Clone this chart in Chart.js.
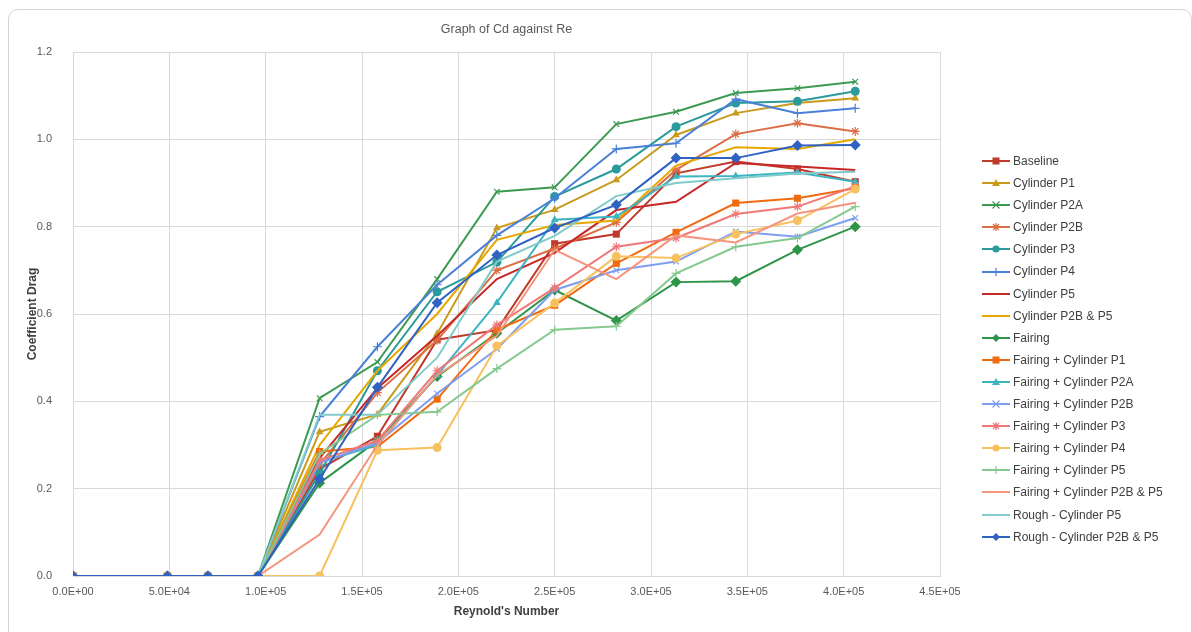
<!DOCTYPE html>
<html>
<head>
<meta charset="utf-8">
<script src="https://cdn.jsdelivr.net/npm/chart.js@4/dist/chart.umd.min.js"></script>
<style>
  html, body { margin: 0; padding: 0; background: #fff; overflow: hidden; }
  #wrap { position: relative; width: 1192px; height: 632px; font-family: "Liberation Sans", Arial, sans-serif; }
  #frame { position: absolute; left: 8px; top: 9px; width: 1182px; height: 640px; border: 1px solid #d4d4d4; border-radius: 10px; }
  #title { position: absolute; left: 73px; width: 867px; top: 22px; text-align: center; font-size: 12.5px; color: #595959; }
  #legend { position: absolute; left: 982px; top: 150px; font-size: 12px; color: #404040; }
  #legend .item { height: 22.1px; line-height: 22.1px; white-space: nowrap; display: flex; align-items: center; }
  #legend svg { margin-right: 3px; flex: none; }
  canvas { position: absolute; left: 0; top: 0; }
</style>
</head>
<body>
<div id="wrap">
  <div id="frame"></div>
  <canvas id="chart" width="1192" height="632"></canvas>
  <div id="title">Graph of Cd against Re</div>
  <div id="legend"></div>
</div>
<script>
// ─── Data ─────────────────────────────────────────────────────────────────────
const reynolds = [0, 49000, 70000, 96000, 128000, 158000, 189000, 220000, 250000, 282000, 313000, 344000, 376000, 406000];

const seriesNames = [
  'Baseline', 'Cylinder P1', 'Cylinder P2A', 'Cylinder P2B', 'Cylinder P3', 'Cylinder P4',
  'Cylinder P5', 'Cylinder P2B & P5', 'Fairing', 'Fairing + Cylinder P1', 'Fairing + Cylinder P2A',
  'Fairing + Cylinder P2B', 'Fairing + Cylinder P3', 'Fairing + Cylinder P4', 'Fairing + Cylinder P5',
  'Fairing + Cylinder P2B & P5', 'Rough - Cylinder P5', 'Rough - Cylinder P2B & P5'
];

const baseline   = [0, 0, 0, 0, 0.245, 0.320, 0.541, 0.563, 0.761, 0.783, 0.922, 0.949, 0.932, 0.903];
const cylP1      = [0, 0, 0, 0, 0.330, 0.370, 0.555, 0.797, 0.839, 0.907, 1.010, 1.060, 1.083, 1.094];
const cylP2A     = [0, 0, 0, 0, 0.407, 0.490, 0.680, 0.880, 0.890, 1.035, 1.063, 1.106, 1.117, 1.132];
const cylP2B     = [0, 0, 0, 0, 0.255, 0.420, 0.540, 0.700, 0.750, 0.810, 0.930, 1.012, 1.037, 1.018];
const cylP3      = [0, 0, 0, 0, 0.235, 0.470, 0.651, 0.719, 0.869, 0.932, 1.029, 1.083, 1.087, 1.110];
const cylP4      = [0, 0, 0, 0, 0.365, 0.525, 0.667, 0.780, 0.865, 0.978, 0.991, 1.092, 1.060, 1.071];
const cylP5      = [0, 0, 0, 0, 0.270, 0.430, 0.550, 0.680, 0.740, 0.838, 0.857, 0.946, 0.938, 0.930];
const cylP2BP5   = [0, 0, 0, 0, 0.300, 0.470, 0.600, 0.770, 0.804, 0.814, 0.940, 0.982, 0.978, 1.000];
const fairing    = [0, 0, 0, 0, 0.213, 0.310, 0.457, 0.556, 0.655, 0.585, 0.673, 0.675, 0.747, 0.800];
const fcP1       = [0, 0, 0, 0, 0.285, 0.296, 0.405, 0.564, 0.620, 0.716, 0.787, 0.854, 0.865, 0.888];
const fcP2A      = [0, 0, 0, 0, 0.260, 0.300, 0.460, 0.626, 0.816, 0.823, 0.915, 0.916, 0.924, 0.903];
const fcP2B      = [0, 0, 0, 0, 0.260, 0.305, 0.418, 0.520, 0.655, 0.700, 0.720, 0.789, 0.777, 0.820];
const fcP3       = [0, 0, 0, 0, 0.265, 0.310, 0.470, 0.575, 0.660, 0.754, 0.774, 0.829, 0.846, 0.892];
const fcP4       = [0, 0, 0, 0, 0.000, 0.288, 0.294, 0.527, 0.625, 0.732, 0.728, 0.783, 0.814, 0.886];
const fcP5       = [0, 0, 0, 0, 0.280, 0.369, 0.376, 0.475, 0.564, 0.572, 0.693, 0.754, 0.774, 0.846];
const fcP2BP5    = [0, 0, 0, 0, 0.095, 0.300, 0.460, 0.550, 0.747, 0.680, 0.780, 0.764, 0.830, 0.855];
const roughP5    = [0, 0, 0, 0, 0.369, 0.369, 0.500, 0.720, 0.779, 0.870, 0.900, 0.911, 0.922, 0.926];
const roughP2BP5 = [0, 0, 0, 0, 0.222, 0.432, 0.626, 0.735, 0.797, 0.850, 0.957, 0.957, 0.986, 0.987];

const seriesValues = [baseline, cylP1, cylP2A, cylP2B, cylP3, cylP4, cylP5, cylP2BP5, fairing,
  fcP1, fcP2A, fcP2B, fcP3, fcP4, fcP5, fcP2BP5, roughP5, roughP2BP5];

// ─── Styles ───────────────────────────────────────────────────────────────────
const colors = ['#c0392b', '#c99a1c', '#3c9a52', '#dc6e45', '#2a9a9a', '#4a80d8', '#c62828', '#e6a800', '#2e9448',
  '#f06a0f', '#3db4c2', '#7e9ff0', '#f07878', '#f7c160', '#86c98e', '#f5957e', '#82cbcb', '#2f62c2'];
const markers = ['rect', 'triangle', 'crossRot', 'star', 'circle', 'cross', false, false, 'rectRot',
  'rect', 'triangle', 'crossRot', 'star', 'circle', 'cross', false, false, 'rectRot'];
const markerRadius = { rect: 5, triangle: 4.5, crossRot: 4, star: 4.5, circle: 4.5, cross: 4.5, rectRot: 5.5 };

function sci(v) {
  if (v === 0) return '0.0E+00';
  const e = Math.floor(Math.log10(v) + 1e-9);
  const m = v / Math.pow(10, e);
  return m.toFixed(1) + 'E+' + String(e).padStart(2, '0');
}

// ─── Legend (HTML) ────────────────────────────────────────────────────────────
function markerSvg(style, c) {
  const cx = 14, cy = 6;
  switch (style) {
    case 'rect': return `<rect x="${cx-3.5}" y="${cy-3.5}" width="7" height="7" fill="${c}"/>`;
    case 'triangle': return `<polygon points="${cx},${cy-4} ${cx+4},${cy+3} ${cx-4},${cy+3}" fill="${c}"/>`;
    case 'circle': return `<circle cx="${cx}" cy="${cy}" r="3.6" fill="${c}"/>`;
    case 'rectRot': return `<polygon points="${cx},${cy-4} ${cx+4},${cy} ${cx},${cy+4} ${cx-4},${cy}" fill="${c}"/>`;
    case 'cross': return `<path d="M${cx-4} ${cy}H${cx+4}M${cx} ${cy-4}V${cy+4}" stroke="${c}" stroke-width="1.2"/>`;
    case 'crossRot': return `<path d="M${cx-3.5} ${cy-3.5}L${cx+3.5} ${cy+3.5}M${cx+3.5} ${cy-3.5}L${cx-3.5} ${cy+3.5}" stroke="${c}" stroke-width="1.2"/>`;
    case 'star': return `<path d="M${cx-4} ${cy}H${cx+4}M${cx} ${cy-4}V${cy+4}M${cx-3} ${cy-3}L${cx+3} ${cy+3}M${cx+3} ${cy-3}L${cx-3} ${cy+3}" stroke="${c}" stroke-width="1.2"/>`;
    default: return '';
  }
}
$legend = document.getElementById('legend');
$legend.innerHTML = seriesNames.map((n, i) => `
  <div class="item"><svg width="28" height="12"><line x1="0" y1="6" x2="28" y2="6" stroke="${colors[i]}" stroke-width="2"/>${markerSvg(markers[i], colors[i])}</svg><span>${n}</span></div>`).join('');

// ─── Chart ────────────────────────────────────────────────────────────────────
const datasets = seriesNames.map((name, i) => ({
  label: name,
  data: reynolds.map((x, k) => ({ x, y: seriesValues[i][k] })),
  showLine: true,
  borderColor: colors[i],
  backgroundColor: colors[i],
  borderWidth: 2,
  pointStyle: markers[i] || 'circle',
  pointRadius: markers[i] ? markerRadius[markers[i]] : 0,
  pointBorderWidth: (markers[i] === 'cross' || markers[i] === 'crossRot' || markers[i] === 'star') ? 1.2 : 0,
  pointBackgroundColor: colors[i],
  pointBorderColor: colors[i],
  order: -i,
  tension: 0
}));

const gridColor = '#d9d9d9';
new Chart(document.getElementById('chart').getContext('2d'), {
  type: 'scatter',
  data: { datasets },
  options: {
    responsive: false,
    animation: false,
    layout: { padding: { top: 52, right: 252, bottom: 0, left: 0 } },
    plugins: { legend: { display: false }, title: { display: false }, tooltip: { enabled: false } },
    scales: {
      x: {
        type: 'linear', min: 0, max: 450000,
        afterFit: s => { s.height = 56; },
        grid: { color: gridColor, drawTicks: false, lineWidth: 1 },
        border: { color: gridColor },
        ticks: { stepSize: 50000, padding: 9, color: '#595959', font: { family: 'Liberation Sans', size: 11 }, callback: v => sci(v), maxRotation: 0 },
        title: { display: true, text: "Reynold's Number", color: '#404040', font: { family: 'Liberation Sans', size: 12, weight: 'bold' }, padding: { top: 0, bottom: 13 } }
      },
      y: {
        min: 0, max: 1.2,
        afterFit: s => { s.width = 73; },
        grid: { color: gridColor, drawTicks: false, lineWidth: 1 },
        border: { color: gridColor },
        ticks: { stepSize: 0.2, padding: 21, color: '#595959', font: { family: 'Liberation Sans', size: 11 }, callback: v => Number(v).toFixed(1) },
        title: { display: true, text: 'Coefficient Drag', color: '#404040', font: { family: 'Liberation Sans', size: 12, weight: 'bold' }, padding: { top: 25, bottom: 0 } }
      }
    }
  }
});
</script>
</body>
</html>
